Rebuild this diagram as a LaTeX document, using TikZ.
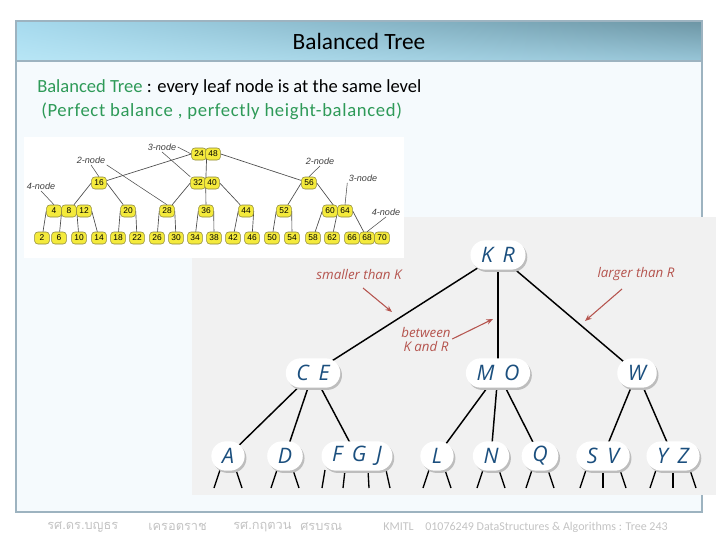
\documentclass[tikz,border=0pt]{standalone}
\usepackage{fontspec}
\setmainfont{Carlito}
\newfontfamily\keyfont{Open Sans}
\newfontfamily\numfont{Liberation Sans}
\newfontfamily\thaifont[Script=Thai]{Loma}
\usetikzlibrary{calc,arrows.meta,shadows,shadings}
\definecolor{framex}{HTML}{9DB3C0}
\definecolor{panelx}{HTML}{F5FAFD}
\definecolor{greenx}{HTML}{2E9A58}
\definecolor{keyx}{HTML}{1B4F7E}
\definecolor{notex}{HTML}{B5544E}
\definecolor{grayx}{HTML}{F1F1F1}
\definecolor{shadx}{HTML}{BDBDBD}
\definecolor{yelx}{HTML}{F4EA3C}
\definecolor{olivex}{HTML}{8C873A}
\definecolor{footx}{HTML}{C3C3C3}
\definecolor{barul}{HTML}{A6DAEE}
\definecolor{barll}{HTML}{B8E6F6}
\definecolor{barur}{HTML}{6C95A4}
\definecolor{barlr}{HTML}{98C6D8}
\pgfdeclarelayer{bg}
\pgfdeclarelayer{edge}
\pgfsetlayers{bg,edge,main}
\tikzset{
  kn/.style={fill=white,rounded corners=11pt,minimum height=22pt,minimum width=25pt,inner xsep=8pt,
    font=\keyfont\itshape\fontsize{16}{16}\selectfont,text=keyx,
    drop shadow={shadow xshift=1.3pt,shadow yshift=-1.7pt,opacity=1,fill=shadx}},
  te/.style={line width=1.1pt,black},
  ar/.style={-{Stealth[length=5pt,width=4pt]},notex,line width=.8pt},
  nt/.style={text=notex,font=\keyfont\itshape\fontsize{10}{10.5}\selectfont,align=center,inner sep=1pt},
  yk/.style={draw=olivex,fill=yelx,rounded corners=2.5pt,minimum width=11.2pt,minimum height=9pt,inner sep=0pt,
    font=\numfont\fontsize{6.3}{6.3}\selectfont},
  tl/.style={black!70,line width=.5pt},
  nl/.style={font=\numfont\itshape\fontsize{6.8}{7}\selectfont,text=black!75,inner sep=1pt},
  ft/.style={anchor=west,text=footx,inner sep=0pt,font=\fontsize{9}{9}\selectfont}
}
\newcommand{\kgap}{\hspace{0.45em}}
\newcommand{\stubs}[2]{\foreach \d/\e in {#2}{\draw[te,line width=1pt] ($(#1.center)+(\d,14)$) -- ($(#1.center)+(\e,32)$);}}
\begin{document}
\begin{tikzpicture}[x=0.75pt,y=-0.75pt]
\useasboundingbox (0,0) rectangle (720,540);
\begin{pgfonlayer}{bg}
\fill[panelx] (16,21) rectangle (702,512);
\shade[upper left=barul,lower left=barll,upper right=barur,lower right=barlr] (16,21) rectangle (702,61);
\draw[framex,line width=.8pt] (16,21) rectangle (702,512);
\draw[framex,line width=.8pt] (16,61) -- (702,61);
\fill[grayx] (192,217) rectangle (716,495);
\fill[white] (24,137) rectangle (404,258);
\end{pgfonlayer}

\node[font=\fontsize{17.5}{17.5}\selectfont] (ttl) at (359,41) {Balanced Tree};
\node[anchor=west,inner sep=0pt,font=\fontsize{13.9}{15}\selectfont] (ln1) at (37,88) {\textcolor{greenx}{Balanced Tree} : every leaf node is at the same level};
\node[anchor=west,inner sep=0pt,font=\fontsize{14}{15}\selectfont\addfontfeature{LetterSpace=3.5},text=greenx] (ln2) at (41,111) {(Perfect balance , perfectly height-balanced)};

\foreach \v/\x in {24/199,48/213} \node[yk] (n\v) at (\x,154) {\v};
\foreach \v/\x in {16/99,32/198,40/212,56/309} \node[yk] (n\v) at (\x,183) {\v};
\foreach \v/\x in {4/54,8/69,12/84,20/128,28/167,36/206,44/246,52/284,60/330,64/345} \node[yk] (n\v) at (\x,211) {\v};
\foreach \v/\x in {2/42,6/59,10/79,14/99,18/118,22/137,26/157,30/176,34/195,38/214,42/233,46/252,50/272,54/292,58/313,62/332,66/352,68/367,70/382}
  \node[yk] (l\v) at (\x,238) {\v};
\begin{pgfonlayer}{edge}
\foreach \a/\b in {n24.west/n16,n24.east/n32.east,n48.east/n56,n16.west/n8,n16.east/n20,n32.west/n28,n32.east/n36,n40.east/n44,
  n56.west/n52,n56.east/n60.east,n4.west/l2,n4.east/l6,n8.east/l10,n12.east/l14,n20.west/l18,n20.east/l22,n28.west/l26,n28.east/l30,
  n36.west/l34,n36.east/l38,n44.west/l42,n44.east/l46,n52.west/l50,n52.east/l54,n60.west/l58,n60.east/l62,n64.east/l68}
  \draw[tl] (\a) -- (\b);
\end{pgfonlayer}
\node[nl] (t1) at (162,147) {3-node};
\node[nl] (t2) at (91,160) {2-node};
\node[nl] (t3) at (41,186) {4-node};
\node[nl] (t4) at (320,161) {2-node};
\node[nl] (t5) at (363,178) {3-node};
\node[nl] (t6) at (386,212) {4-node};
\draw[tl,line width=.4pt] (t1.east) -- (n24.west);
\draw[tl,line width=.4pt] (t1.south) -- (n32.north west);
\draw[tl,line width=.4pt] (t2.south) -- (n16.north);
\draw[tl,line width=.4pt] (t2.south east) -- (n28.north);
\draw[tl,line width=.4pt] (t3.south) -- (n4.north);
\draw[tl,line width=.4pt] (t4.south) -- (n56.north);
\draw[tl,line width=.4pt] (t5.south west) -- (n64.north);
\draw[tl,line width=.4pt] (t6.south) -- (l68.north);

\node[kn] (KR) at (498,255) {K\kgap R};
\node[kn] (CE) at (313,373) {C\kgap E};
\node[kn] (MO) at (498,373) {M\kgap O};
\node[kn] (W) at (637,373) {W};
\node[kn] (A) at (228,456) {A};
\node[kn] (D) at (285,456) {D};
\node[kn] (FGJ) at (357,456) {F\kgap G\kgap J};
\node[kn] (L) at (437,456) {L};
\node[kn] (N) at (491,456) {N};
\node[kn] (Q) at (540,456) {Q};
\node[kn] (SV) at (603,456) {S\kgap V};
\node[kn] (YZ) at (673,456) {Y\kgap Z};
\begin{pgfonlayer}{edge}
\foreach \a/\b in {KR/CE,KR/MO,KR/W,CE/A,CE/D,CE/FGJ,MO/L,MO/N,MO/Q,W/SV,W/YZ}
  \draw[te] (\a.center) -- (\b.center);
\foreach \n in {A,D,L,N,Q} {\stubs{\n}{-8/-14,8/14}}
\foreach \n in {SV,YZ} {\stubs{\n}{-17/-23,0/0,17/23}}
\stubs{FGJ}{-32/-35,-12/-14,11/12,29/33}
\end{pgfonlayer}

\node[nt] (sk) at (359,274) {smaller than K};
\node[nt] (lr) at (636,274) {larger than R};
\node[nt] (bw) at (426,339) {between\\K and R};
\coordinate (skp) at (392,312);
\coordinate (lrp) at (585,321);
\coordinate (bwp) at (493,319);
\draw[ar] (363,288) -- (skp);
\draw[ar] (622,289) -- (lrp);
\draw[ar] (bw.east) -- (bwp);

\node[ft,font=\thaifont\fontsize{9.6}{9.6}\selectfont] (f1) at (47,527) {รศ.ดร.บญธร};
\node[ft,font=\thaifont\fontsize{9.6}{9.6}\selectfont] (f2) at (148,527) {เครอตราช};
\node[ft,font=\thaifont\fontsize{9.6}{9.6}\selectfont] (f3) at (233,527) {รศ.กฤตวน};
\node[ft,font=\thaifont\fontsize{9.6}{9.6}\selectfont] (f4) at (300,527) {ศรบรณ};
\node[ft] (f5) at (383,527) {KMITL};
\node[ft] (f6) at (425,527) {01076249 DataStructures \& Algorithms : Tree 243};
\end{tikzpicture}
\end{document}
